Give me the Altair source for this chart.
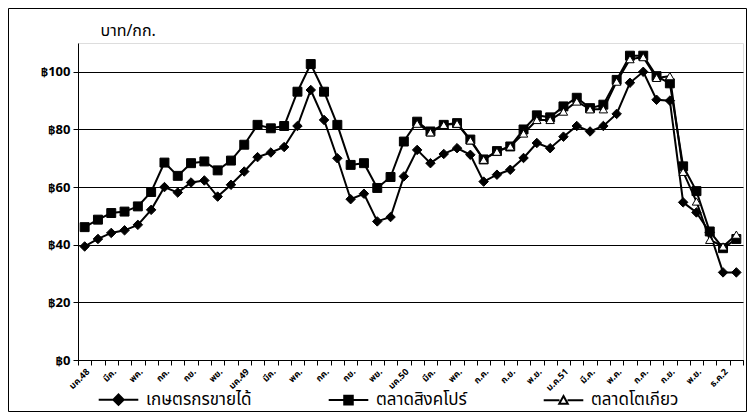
import altair as alt
import pandas as pd

# Category positions (50 periods, Jan 2548 .. Dec 2551 weeks)
periods = list(range(50))
# Axis labels shown on every second period
tick_labels = ["มค.48", "มีค.", "พค.", "กค.", "กย.", "พย.",
               "มค.49", "มีค.", "พค.", "กค.", "กย.", "พย.",
               "มค.50", "มีค.", "พค.", "ก.ค.", "ก.ย.", "พ.ย.",
               "ม.ค.51", "มี.ค.", "พ.ค.", "ก.ค.", "ก.ย.", "พ.ย.", "ธ.ค.2"]

series_names = ["เกษตรกรขายได้", "ตลาดสิงคโปร์", "ตลาดโตเกียว"]

farmer = [39.4, 42.0, 44.1, 45.0, 46.9, 52.1, 60.0, 58.1, 61.6, 62.3,
          56.7, 60.8, 65.4, 70.4, 72.0, 73.9, 81.2, 93.7, 83.3, 70.0,
          55.8, 57.7, 48.1, 49.6, 63.7, 72.9, 68.3, 71.5, 73.5, 71.2,
          61.9, 64.3, 66.0, 70.1, 75.3, 73.5, 77.5, 81.2, 79.3, 81.2,
          85.4, 96.2, 100.0, 90.3, 90.0, 54.7, 51.2, 44.3, 30.4, 30.4]

singapore = [46.1, 48.7, 51.0, 51.5, 53.3, 58.3, 68.5, 63.9, 68.3, 68.9,
             65.8, 69.2, 74.7, 81.6, 80.4, 81.2, 93.1, 102.7, 93.1, 81.6,
             67.7, 68.3, 59.7, 63.5, 75.8, 82.7, 79.3, 81.6, 82.2, 76.5,
             69.6, 72.5, 74.1, 80.0, 84.9, 84.2, 88.0, 91.0, 87.4, 88.6,
             97.2, 105.6, 105.6, 98.5, 96.0, 67.2, 58.6, 44.6, 38.8, 42.0]

tokyo_start = 25
tokyo = [82.0, 79.0, 81.6, 82.0, 76.2, 69.5, 72.3, 74.1, 78.6, 83.3,
         83.3, 86.2, 89.7, 87.0, 87.0, 96.6, 104.4, 105.1, 97.9, 98.5,
         65.3, 55.0, 41.7, 39.4, 43.5]

y_ticks = [0, 20, 40, 60, 80, 100]

rows = []
for i, v in zip(periods, farmer):
    rows.append({"idx": i, "series": series_names[0], "value": v})
for i, v in zip(periods, singapore):
    rows.append({"idx": i, "series": series_names[1], "value": v})
for k, v in enumerate(tokyo):
    rows.append({"idx": periods[tokyo_start + k], "series": series_names[2], "value": v})
df = pd.DataFrame(rows)

full_labels = []
for i in periods:
    full_labels.append(tick_labels[i // 2] if i % 2 == 0 else "")
label_expr = "[" + ",".join("'" + s + "'" for s in full_labels) + "][datum.value]"

FONT = "Tahoma, 'Noto Sans Thai', 'Leelawadee UI', 'DejaVu Sans', sans-serif"

x_enc = alt.X("idx:O",
              scale=alt.Scale(type="band", paddingInner=0, paddingOuter=0),
              axis=alt.Axis(title=None, labelExpr=label_expr, labelAngle=-45,
                            labelFontSize=9, labelFontWeight="bold",
                            labelColor="black", tickColor="black",
                            domainColor="black", tickSize=5, tickBand="extent",
                            labelPadding=2, labelOverlap=False, grid=False))
y_enc = alt.Y("value:Q",
              scale=alt.Scale(domain=[0, 110], nice=False),
              axis=alt.Axis(values=y_ticks, title="บาท/กก.", titleAngle=0,
                            titleAlign="left", titleBaseline="middle",
                            titleX=22, titleY=-13, titleFontSize=16,
                            titleFontWeight="normal", titleFont=FONT,
                            labelExpr="'฿' + datum.value", labelFontSize=13,
                            labelFontWeight="bold", labelColor="black",
                            tickColor="black", domainColor="black",
                            gridColor="black", gridWidth=1, gridOpacity=1,
                            tickSize=5, labelPadding=3))

lines = alt.Chart(df).mark_line(color="black").encode(
    x=x_enc, y=y_enc, detail="series:N",
    strokeWidth=alt.StrokeWidth("series:N",
                                scale=alt.Scale(domain=series_names, range=[2, 2, 1]),
                                legend=None),
)

points = alt.Chart(df).mark_point(filled=True, stroke="black", strokeWidth=1, opacity=1).encode(
    x=x_enc, y=y_enc,
    shape=alt.Shape("series:N",
                    scale=alt.Scale(domain=series_names,
                                    range=["diamond", "square", "triangle-up"]),
                    legend=None),
    fill=alt.Fill("series:N",
                  scale=alt.Scale(domain=series_names, range=["black", "black", "white"]),
                  legend=None),
    size=alt.Size("series:N",
                  scale=alt.Scale(domain=series_names, range=[90, 70, 45]),
                  legend=None),
)

# legend-only layer (no data drawn): symbols are a line segment with the marker
legend_paths = [
    "M-4.4,0H4.4M0,-1.15L1.15,0L0,1.15L-1.15,0Z",
    "M-4.4,0H4.4M-0.95,-0.95H0.95V0.95H-0.95Z",
    "M-4.4,0H-0.9M0.9,0H4.4M0,-0.95L0.95,0.8H-0.95Z",
]
legend = alt.Legend(
    title=None, orient="none", direction="horizontal",
    legendX=32, legendY=348, labelFontSize=17, labelFont=FONT,
    labelColor="black", symbolSize=81, labelOffset=19, columnPadding=72,
    symbolOpacity=1,
)
legend_layer = alt.Chart(df).transform_filter("false").mark_point(
    filled=True, opacity=1).encode(
    x=x_enc, y=y_enc,
    shape=alt.Shape("series:N",
                    scale=alt.Scale(domain=series_names, range=legend_paths),
                    legend=legend),
    fill=alt.Fill("series:N",
                  scale=alt.Scale(domain=series_names, range=["black", "black", "white"]),
                  legend=legend),
    stroke=alt.Stroke("series:N",
                      scale=alt.Scale(domain=series_names, range=["black", "black", "black"]),
                      legend=legend),
    strokeWidth=alt.StrokeWidth("series:N",
                                scale=alt.Scale(domain=series_names, range=[2, 2, 1]),
                                legend=legend),
)

frame = alt.Chart(df).mark_rect(filled=False, stroke="black", strokeWidth=1, clip=False).encode(
    x=alt.value(-69.5), x2=alt.value(668.5), y=alt.value(-34.5), y2=alt.value(368.5)
).transform_filter("datum.idx == 0 && datum.series == '" + series_names[0] + "'")

chart = alt.layer(frame, lines, points, legend_layer).resolve_scale(
    shape="independent", fill="independent", stroke="independent",
    strokeWidth="independent", size="independent"
).properties(
    width=665, height=317,
    autosize=alt.AutoSizeParams(type="none"),
    padding={"left": 70, "top": 35, "right": 4, "bottom": 52},
    background="white",
).configure_view(stroke="black", strokeWidth=1).configure(font=FONT)

chart.save("out.html", embed_options={"renderer": "svg", "actions": False})
